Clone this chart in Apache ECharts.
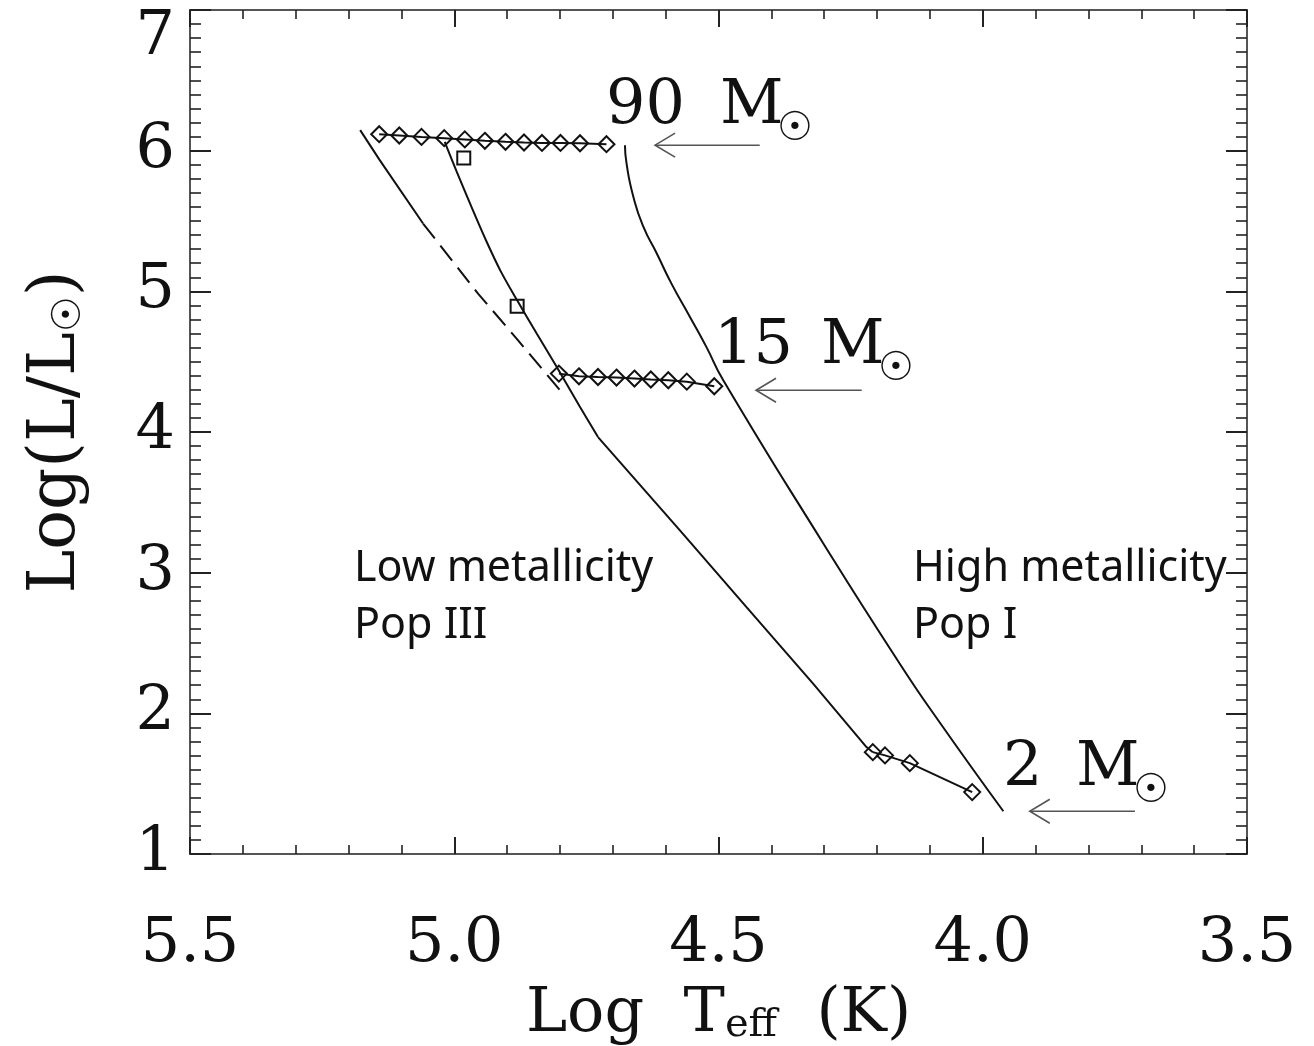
<!DOCTYPE html>
<html>
<head>
<meta charset="utf-8">
<title>HR diagram – ZAMS for Pop I and Pop III</title>
<script src="https://cdn.jsdelivr.net/npm/echarts@6/dist/echarts.min.js"></script>
<style>
  html, body { margin: 0; padding: 0; background: #fff; }
  #chart { width: 1314px; height: 1046px; }
</style>
</head>
<body>
<div id="chart"></div>
<script>
// Axis ticks
const xTicks = [5.5, 5.0, 4.5, 4.0, 3.5];
const yTicks = [1, 2, 3, 4, 5, 6, 7];

// High metallicity (Pop I) zero-age main sequence
const popI_logT = [4.677, 4.674, 4.661, 4.642, 4.617, 4.589, 4.554, 4.523, 4.491, 4.304, 4.157, 4.084, 3.961];
const popI_logL = [6.039, 5.909, 5.671, 5.458, 5.271, 5.055, 4.818, 4.605, 4.368, 3.222, 2.353, 1.949, 1.304];

// Low metallicity (Pop III) zero-age main sequence: curved upper branch, straight lower branch
const popIIIup_logT = [5.018, 4.995, 4.968, 4.940, 4.912, 4.881, 4.844, 4.806, 4.762, 4.728];
const popIIIup_logL = [6.063, 5.847, 5.605, 5.363, 5.142, 4.936, 4.700, 4.462, 4.178, 3.964];
const popIIIlo_logT = [4.728, 4.573, 4.447, 4.321, 4.220, 4.208];
const popIIIlo_logL = [3.964, 3.301, 2.755, 2.211, 1.760, 1.724];

// Metal-free sequence: solid upper part, dashed lower part
const zeroZ_solid_logT = [5.178, 5.141, 5.059];
const zeroZ_solid_logL = [6.146, 5.933, 5.482];
const zeroZ_dash_logT = [5.059, 4.955, 4.882, 4.800];
const zeroZ_dash_logL = [5.482, 4.984, 4.664, 4.297];

// Tracks at constant mass (diamonds)
const m90_logT = [5.142, 5.104, 5.062, 5.019, 4.980, 4.942, 4.903, 4.868, 4.834, 4.799, 4.762, 4.712];
const m90_logL = [6.117, 6.108, 6.098, 6.089, 6.080, 6.070, 6.063, 6.058, 6.055, 6.055, 6.053, 6.046];
const m15_logT = [4.802, 4.764, 4.728, 4.693, 4.659, 4.628, 4.595, 4.560, 4.508];
const m15_logL = [4.415, 4.396, 4.391, 4.387, 4.380, 4.373, 4.368, 4.358, 4.325];
const m2_logT = [4.208, 4.185, 4.138, 4.020];
const m2_logL = [1.724, 1.701, 1.646, 1.440];

// Individual models (squares)
const sq_logT = [4.982, 4.881];
const sq_logL = [5.947, 4.894];

// Mass arrows: tip logT, logL, tail logT
const arrowTip = [4.620, 4.429, 3.911];
const arrowL = [6.039, 4.297, 1.304];
const arrowTail = [4.422, 4.229, 3.712];

const zip = (a, b) => a.map((v, i) => [v, b[i]]);

const serif = 'DejaVu Serif';
const sans = 'Noto Sans';
const ink = '#111';

const lineStyle = { color: ink, width: 2 };
const openDiamond = {
  symbol: 'diamond', symbolSize: [16, 16], showSymbol: true,
  itemStyle: { color: 'rgba(0,0,0,0)', borderColor: ink, borderWidth: 2, opacity: 1 }
};

function xAxisCfg(pos, labels) {
  return {
    type: 'value', position: pos, inverse: true, min: 3.5, max: 5.5, interval: 0.5,
    axisLine: { show: true, onZero: false, lineStyle: { color: '#555', width: 2 } },
    axisTick: { show: true, inside: true, length: 17, lineStyle: { color: '#222', width: 2 } },
    minorTick: { show: true, splitNumber: 5, length: 9, lineStyle: { color: '#222', width: 1.6 } },
    splitLine: { show: false },
    axisLabel: labels ? {
      show: true, margin: 60, fontFamily: serif, fontSize: 62, color: ink,
      showMinLabel: true, showMaxLabel: true,
      formatter: v => xTicks.includes(+v.toFixed(1)) ? v.toFixed(1) : ''
    } : { show: false },
    name: labels ? '{a|Log  T}{b|eff}{a|  (K)}' : '',
    nameLocation: 'middle', nameGap: 122,
    nameTextStyle: {
      rich: {
        a: { fontFamily: serif, fontSize: 62, color: ink, lineHeight: 70, verticalAlign: 'bottom' },
        b: { fontFamily: serif, fontSize: 40, color: ink, lineHeight: 24, verticalAlign: 'bottom' }
      }
    }
  };
}

function yAxisCfg(pos, labels) {
  return {
    type: 'value', position: pos, min: 1, max: 7, interval: 1,
    axisLine: { show: true, onZero: false, lineStyle: { color: '#555', width: 2 } },
    axisTick: { show: true, inside: true, length: 21, lineStyle: { color: '#222', width: 2 } },
    minorTick: { show: true, splitNumber: 10, length: 11, lineStyle: { color: '#222', width: 1.6 } },
    splitLine: { show: false },
    axisLabel: labels ? {
      show: true, margin: 15, fontFamily: serif, fontSize: 62, color: ink,
      showMinLabel: true, showMaxLabel: true,
      // the top label sits inside the frame, below its tick
      formatter: v => !yTicks.includes(v) ? '' : (v === 7 ? '{top|7}' : String(v)),
      rich: { top: { fontFamily: serif, fontSize: 62, color: ink, padding: [56, 0, 0, 0] } }
    } : { show: false },
    name: labels ? '{a|Log(L/L}{s|☉}{a|)}' : '',
    nameLocation: 'middle', nameGap: 100, nameRotate: 90,
    nameTextStyle: {
      rich: {
        a: { fontFamily: serif, fontSize: 66, color: ink, lineHeight: 72, verticalAlign: 'bottom' },
        s: { fontFamily: 'DejaVu Sans', fontSize: 40, color: ink, lineHeight: 40, verticalAlign: 'bottom' }
      }
    }
  };
}

// Mass label: number and M in serif, solar symbol as a lowered smaller glyph
function massLabel(mass, numX, mX, y) {
  const big = { fontFamily: serif, fontSize: 62, lineHeight: 70, fill: ink, align: 'left', verticalAlign: 'top' };
  return {
    type: 'group', z: 10,
    children: [
      { type: 'text', x: numX, y: y, style: Object.assign({ text: mass }, big) },
      { type: 'text', x: mX, y: y, style: Object.assign({ text: 'M' }, big) },
      { type: 'text', x: mX + 57, y: y + 58,
        style: { text: '☉', fontFamily: 'DejaVu Sans', fontSize: 40, fill: ink,
                 align: 'left', verticalAlign: 'middle' } }
    ]
  };
}

function regionLabel(text, x, y) {
  return {
    type: 'text', left: x, top: y, z: 10,
    style: { text: text, fontFamily: sans, fontSize: 43, lineHeight: 57, fill: ink }
  };
}

const chart = echarts.init(document.getElementById('chart'), null, { renderer: 'canvas' });

chart.setOption({
  animation: false,
  backgroundColor: '#fff',
  grid: { left: 190, right: 67, top: 10, bottom: 192, outerBoundsMode: 'none', containLabel: false },
  xAxis: [xAxisCfg('bottom', true), xAxisCfg('top', false)],
  yAxis: [yAxisCfg('left', true), yAxisCfg('right', false)],
  graphic: [
    massLabel('90', 606, 720, 72),
    massLabel('15', 714, 821, 312),
    massLabel('2', 1003, 1076, 734),
    regionLabel('Low metallicity\nPop III', 354, 540),
    regionLabel('High metallicity\nPop I', 913, 540)
  ],
  series: [
    { name: 'Pop I ZAMS', type: 'line', data: zip(popI_logT, popI_logL), smooth: 0.55,
      showSymbol: false, lineStyle },
    { name: 'Pop III ZAMS upper', type: 'line', data: zip(popIIIup_logT, popIIIup_logL), smooth: 0.3,
      showSymbol: false, lineStyle },
    { name: 'Pop III ZAMS lower', type: 'line', data: zip(popIIIlo_logT, popIIIlo_logL),
      showSymbol: false, lineStyle },
    { name: 'Z=0 upper', type: 'line', data: zip(zeroZ_solid_logT, zeroZ_solid_logL),
      showSymbol: false, lineStyle },
    { name: 'Z=0 lower', type: 'line', data: zip(zeroZ_dash_logT, zeroZ_dash_logL),
      showSymbol: false, lineStyle: { color: ink, width: 2, type: [19, 9] } },
    Object.assign({ name: '90 Msun', type: 'line', data: zip(m90_logT, m90_logL), lineStyle }, openDiamond),
    Object.assign({ name: '15 Msun', type: 'line', data: zip(m15_logT, m15_logL), lineStyle }, openDiamond),
    Object.assign({ name: '2 Msun', type: 'line', data: zip(m2_logT, m2_logL), lineStyle }, openDiamond),
    { name: 'models', type: 'scatter', data: zip(sq_logT, sq_logL), symbol: 'rect', symbolSize: 13,
      itemStyle: { color: 'rgba(0,0,0,0)', borderColor: ink, borderWidth: 2, opacity: 1 } },
    { name: 'arrows', type: 'custom', data: arrowTip.map((t, i) => [t, arrowL[i], arrowTail[i]]),
      encode: { x: [0, 2], y: 1 }, clip: false,
      renderItem: (params, api) => {
        const tip = api.coord([api.value(0), api.value(1)]);
        const tail = api.coord([api.value(2), api.value(1)]);
        const st = { stroke: '#555', lineWidth: 1.6, fill: null };
        return {
          type: 'group',
          children: [
            { type: 'line', shape: { x1: tip[0], y1: tip[1], x2: tail[0], y2: tail[1] }, style: st },
            { type: 'polyline', shape: { points: [[tip[0] + 20, tip[1] - 12], tip, [tip[0] + 20, tip[1] + 12]] }, style: st }
          ]
        };
      } }
  ]
});
</script>
</body>
</html>
